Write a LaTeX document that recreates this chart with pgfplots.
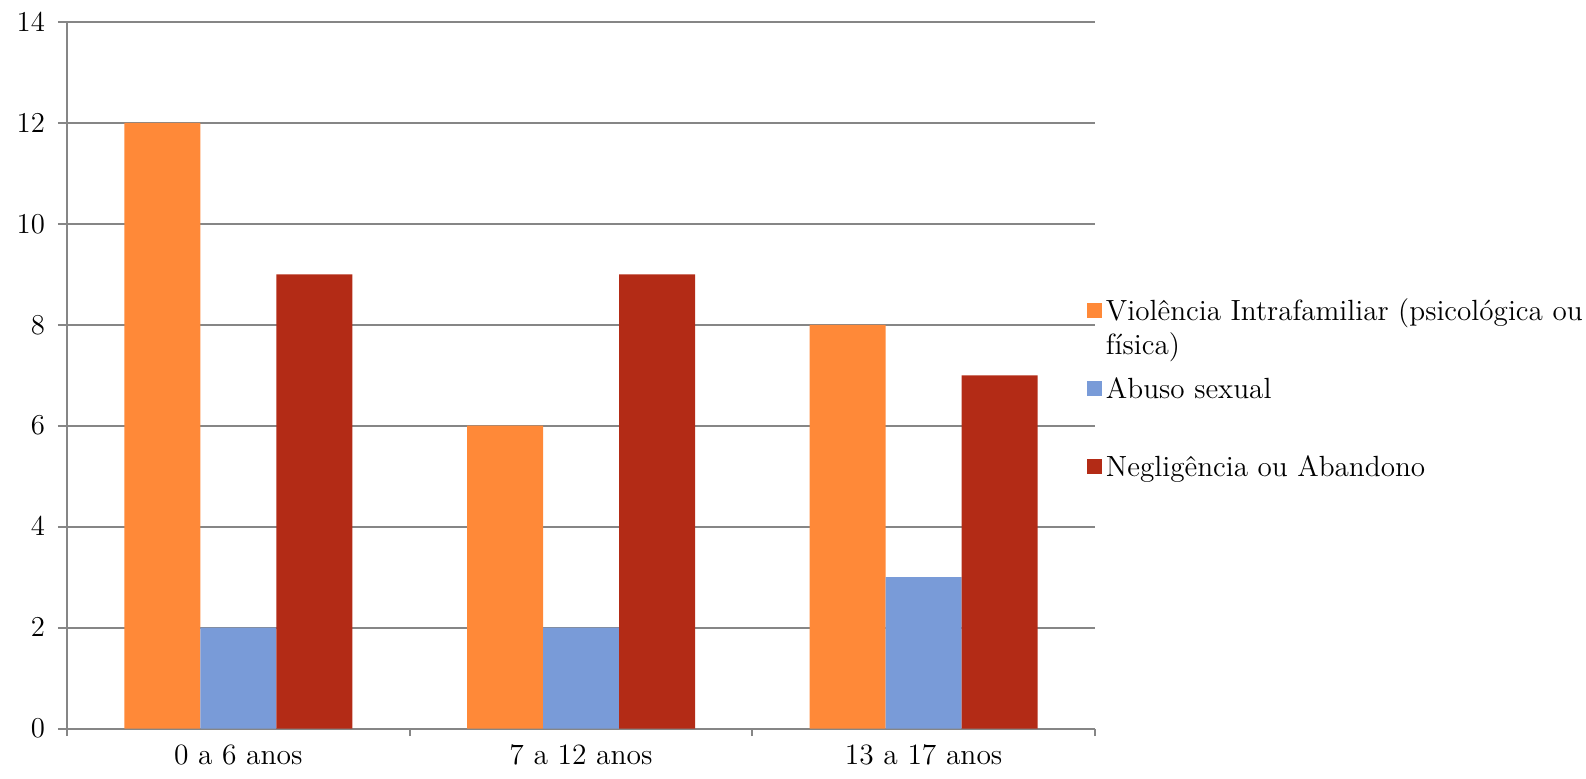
\documentclass[border=0pt]{standalone}
\usepackage{pgfplots}
\pgfplotsset{compat=1.18}
\definecolor{cOr}{RGB}{255,137,56}
\definecolor{cBl}{RGB}{121,155,216}
\definecolor{cRd}{RGB}{179,43,22}
\definecolor{gridg}{RGB}{134,134,134}
\pgfplotsset{sq/.style={legend image code/.code={\fill[##1,draw=none] (0pt,-3.2pt) rectangle (7.5pt,4.3pt);}}}
\begin{document}
\begin{tikzpicture}
\useasboundingbox (-33.5pt,-25pt) rectangle (759.5pt,364.25pt);
\begin{axis}[
  at={(0pt,0pt)}, anchor=south west,
  scale only axis, width=514pt, height=353.25pt,
  xmin=-0.5, xmax=2.5, ymin=0, ymax=14,
  ytick={0,2,...,14},
  ymajorgrids, grid style={gridg, line width=1pt},
  axis x line*=bottom, axis y line*=left,
  axis line style={gridg, line width=1pt, -},
  tick align=outside,
  tick style={gridg, line width=1pt},
  major tick length=4.5pt, minor tick length=3.75pt,
  xtick={0,1,2}, xticklabels={0 a 6 anos,7 a 12 anos,13 a 17 anos},
  minor xtick={-0.5,0.5,1.5,2.5},
  major x tick style={draw=none},
  tick label style={font=\fontsize{14.75}{17}\selectfont, text=black},
  yticklabel style={xshift=-3pt},
  ybar=0pt, bar width=38pt,
  legend style={draw=none, fill=none, at={(0.9918,0.6147)}, anchor=north west,
    inner sep=0pt, row sep=22.5pt, font=\fontsize{14.6}{16.7}\selectfont,
    /tikz/every even column/.append style={column sep=1pt}},
  legend cell align=left,
]
\addplot[fill=cOr, draw=none, sq] coordinates {(0,12) (1,6) (2,8)};
\addplot[fill=cBl, draw=none, sq] coordinates {(0,2) (1,2) (2,3)};
\addplot[fill=cRd, draw=none, sq] coordinates {(0,9) (1,9) (2,7)};
\legend{\raisebox{0pt}[11pt][0pt]{\begin{tabular}[t]{@{}l@{}}Violência Intrafamiliar (psicológica ou\\física)\end{tabular}},
\raisebox{0pt}[11pt][0pt]{Abuso sexual},
\raisebox{0pt}[11pt][0pt]{Negligência ou Abandono}}
\end{axis}
\end{tikzpicture}
\end{document}
